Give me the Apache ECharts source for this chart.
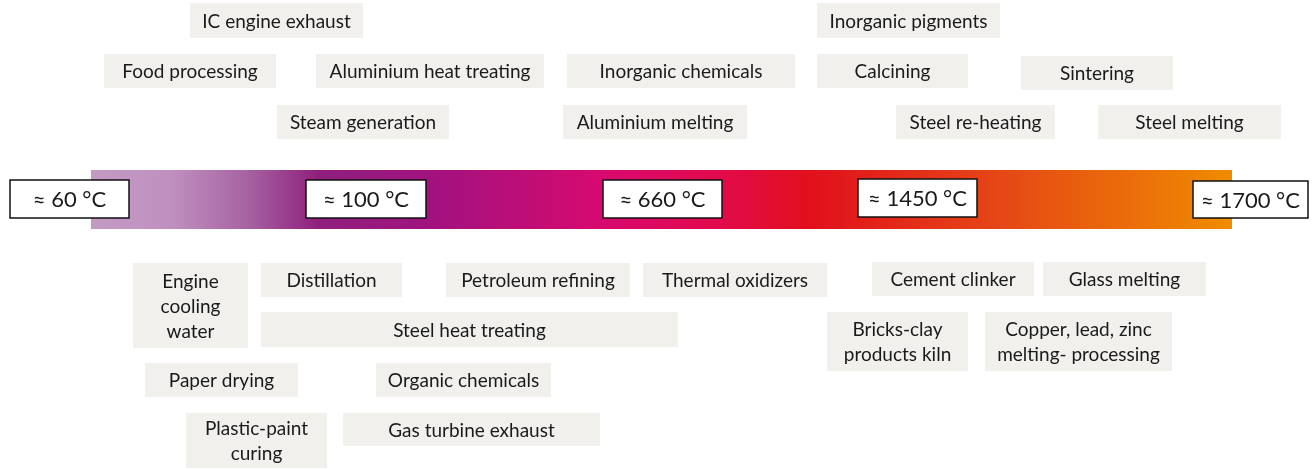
<!DOCTYPE html>
<html>
<head>
<meta charset="utf-8">
<script src="https://cdn.jsdelivr.net/npm/echarts@6/dist/echarts.min.js"></script>
<style>
  html, body { margin: 0; padding: 0; background: #fff; }
  #main { width: 1316px; height: 469px; }
</style>
</head>
<body>
<div id="main"></div>
<script>
// process labels and their extents (in diagram units, x: 0-1316, y: 0-469 from top)
var processes = ['IC engine exhaust', 'Food processing', 'Aluminium heat treating', 'Steam generation',
  'Inorganic chemicals', 'Aluminium melting', 'Inorganic pigments', 'Calcining', 'Sintering',
  'Steel re-heating', 'Steel melting',
  'Engine\ncooling\nwater', 'Distillation', 'Petroleum refining', 'Thermal oxidizers',
  'Cement clinker', 'Glass melting', 'Steel heat treating', 'Bricks-clay\nproducts kiln',
  'Copper, lead, zinc\nmelting- processing', 'Paper drying', 'Organic chemicals',
  'Plastic-paint\ncuring', 'Gas turbine exhaust'];
var procLeft   = [190, 104, 316, 277, 567, 563, 817, 817, 1021, 896, 1098,
  133, 261, 446, 643, 872, 1043, 261, 827, 985, 145, 376, 186, 343];
var procRight  = [363, 276, 544, 449, 795, 747, 1000, 968, 1173, 1055, 1281,
  248, 402, 630, 827, 1034, 1206, 678, 968, 1172, 298, 551, 327, 600];
var procTop    = [3, 54, 54, 105, 54, 105, 3, 54, 56, 105, 105,
  263, 263, 263, 263, 262, 262, 312, 312, 312, 363, 363, 413, 413];
var procBottom = [38, 88, 88, 139, 88, 139, 38, 88, 90, 139, 139,
  348, 297, 297, 297, 296, 296, 347, 371, 371, 397, 397, 468, 446];

// temperature markers along the bar
var temps = ['≈ 60 °C', '≈ 100 °C', '≈ 660 °C', '≈ 1450 °C', '≈ 1700 °C'];
var tempLeft  = [10, 306, 603, 858, 1193];
var tempRight = [129, 426, 722, 977, 1308];
var tempTop    = [180, 180, 180, 179, 181];
var tempBottom = [218, 218, 218, 217, 218];

// the colour bar
var barExtent = [91, 1232, 170, 229];

var procData = processes.map(function (n, i) {
  return [procLeft[i], procRight[i], procTop[i], procBottom[i], n];
});
var tempData = temps.map(function (n, i) {
  return [tempLeft[i], tempRight[i], tempTop[i], tempBottom[i], n];
});

var procOrTemp = { 1: procData, 2: tempData };

function boxRender(fill, stroke, fontSize) {
  return function (params, api) {
    var p0 = api.coord([api.value(0), api.value(2)]);
    var p1 = api.coord([api.value(1), api.value(3)]);
    var label = procOrTemp[params.seriesIndex][params.dataIndex][4];
    return {
      type: 'group',
      children: [{
        type: 'rect',
        shape: { x: p0[0], y: p0[1], width: p1[0] - p0[0], height: p1[1] - p0[1] },
        style: { fill: fill, stroke: stroke, lineWidth: stroke ? 1.5 : 0 }
      }, {
        type: 'text',
        style: {
          text: label,
          x: (p0[0] + p1[0]) / 2,
          y: (p0[1] + p1[1]) / 2 + 1,
          align: 'center',
          verticalAlign: 'middle',
          fill: '#1a1a1a',
          fontSize: fontSize,
          fontFamily: 'Lato, "Open Sans", sans-serif',
          lineHeight: 25
        }
      }]
    };
  };
}

var option = {
  animation: false,
  grid: { left: 0, right: 0, top: 0, bottom: 0 },
  xAxis: { type: 'value', min: 0, max: 1316, show: false },
  yAxis: { type: 'value', min: 0, max: 469, inverse: true, show: false },
  series: [
    {
      type: 'custom',
      data: [barExtent],
      renderItem: function (params, api) {
        var p0 = api.coord([api.value(0), api.value(2)]);
        var p1 = api.coord([api.value(1), api.value(3)]);
        return {
          type: 'rect',
          shape: { x: p0[0], y: p0[1], width: p1[0] - p0[0], height: p1[1] - p0[1] },
          style: {
            fill: new echarts.graphic.LinearGradient(0, 0, 1, 0, [
              { offset: 0, color: '#c49ac4' },
              { offset: 0.07, color: '#bf90bf' },
              { offset: 0.14, color: '#a560a0' },
              { offset: 0.2, color: '#8f1f7d' },
              { offset: 0.3, color: '#a2127f' },
              { offset: 0.45, color: '#d8096f' },
              { offset: 0.55, color: '#e20a4c' },
              { offset: 0.63, color: '#e1101c' },
              { offset: 0.8, color: '#e54816' },
              { offset: 1, color: '#ef8c00' }
            ])
          }
        };
      },
      z: 1
    },
    {
      type: 'custom',
      data: procData,
      renderItem: boxRender('#f1f0ec', null, 19),
      z: 2
    },
    {
      type: 'custom',
      data: tempData,
      renderItem: boxRender('#ffffff', '#111111', 22),
      z: 3
    }
  ]
};

var myChart = echarts.init(document.getElementById('main'));
myChart.setOption(option);
</script>
</body>
</html>
